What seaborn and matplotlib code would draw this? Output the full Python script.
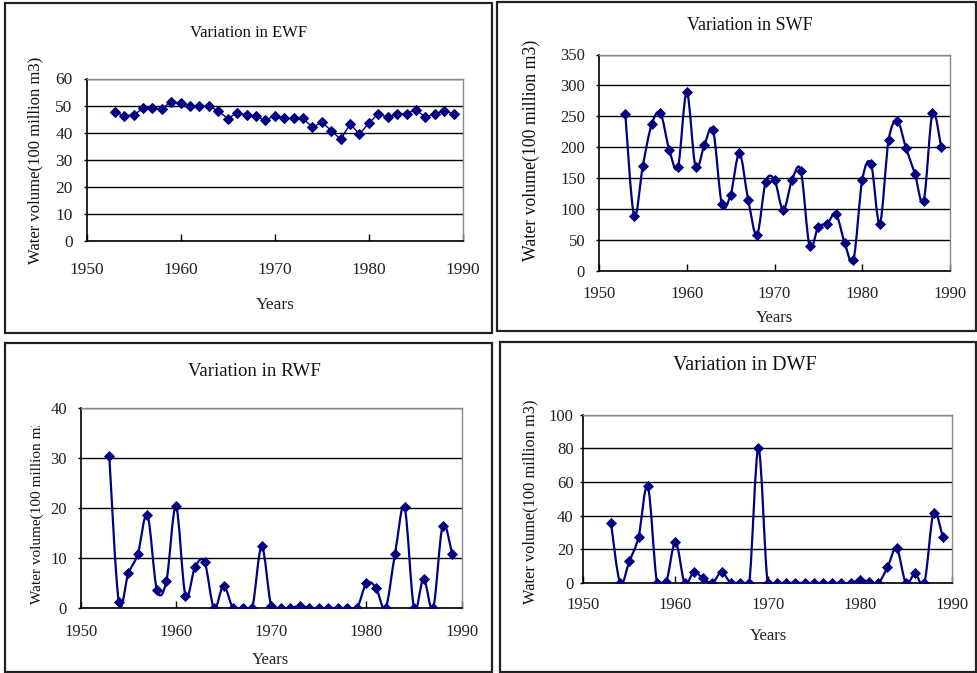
import numpy as np
import pandas as pd
import matplotlib
matplotlib.use("Agg")
import matplotlib.pyplot as plt
from matplotlib.path import Path
from matplotlib.patches import PathPatch, Rectangle
from matplotlib.transforms import Bbox
import seaborn as sns

# ---- data (water volume, 100 million m3) ----
years = list(range(1953, 1990))

ewf = [47.5, 46.3, 46.5, 49.0, 49.0, 48.7, 51.5, 50.8, 49.8, 49.8, 49.8, 48.0,
       45.2, 47.3, 46.6, 46.0, 44.5, 46.3, 45.3, 45.3, 45.3, 42.0, 43.8, 40.8,
       37.5, 43.2, 39.5, 43.5, 47.0, 45.7, 47.0, 47.0, 48.5, 45.7, 47.0, 48.0,
       47.0]

swf = [253, 89, 170, 237, 255, 196, 168, 289, 168, 203, 227, 108, 123, 190,
       115, 58, 144, 147, 98, 147, 162, 40, 71, 76, 92, 45, 18, 147, 173, 76,
       211, 242, 198, 157, 113, 255, 200]

rwf = [30.4, 1.3, 7.0, 10.9, 18.7, 3.7, 5.5, 20.4, 2.5, 8.2, 9.3, 0.0, 4.5,
       0.0, 0.0, 0.0, 12.4, 0.5, 0.0, 0.0, 0.5, 0.0, 0.0, 0.0, 0.0, 0.0, 0.0,
       5.0, 4.1, 0.0, 10.9, 20.2, 0.0, 5.9, 0.0, 16.5, 10.9]

dwf = [35.8, 0.0, 13.0, 27.5, 57.6, 0.0, 0.8, 24.5, 0.0, 6.5, 2.8, 0.0, 6.5,
       0.0, 0.0, 0.0, 80.0, 0.0, 0.0, 0.0, 0.0, 0.0, 0.0, 0.0, 0.0, 0.0, 0.0,
       1.8, 0.8, 0.0, 9.3, 20.6, 0.0, 5.7, 0.0, 41.6, 27.3]

x_ticks = [1950, 1960, 1970, 1980, 1990]
ylabel = "Water volume(100 million m3)"

W, H = 977, 673
NAVY = "#000080"

sns.set_style("white")
plt.rcParams["font.family"] = ["Liberation Serif", "DejaVu Serif"]
plt.rcParams["axes.unicode_minus"] = False

fig = plt.figure(figsize=(W / 100, H / 100), dpi=100)


def fx(px):
    return px / W


def fy(py):
    return 1 - py / H


def add_box(x0, y0, x1, y1):
    fig.patches.append(Rectangle((fx(x0), fy(y1)), fx(x1 - x0), (y1 - y0) / H,
                                 transform=fig.transFigure, fill=False,
                                 lw=1.6, ec="#222222", zorder=0))


def smooth_path(xs, ys):
    # cubic Bezier segments through every point (Catmull-Rom style tangents)
    pts = np.column_stack([xs, ys]).astype(float)
    n = len(pts)
    verts = [pts[0]]
    codes = [Path.MOVETO]
    for i in range(n - 1):
        p0 = pts[i - 1] if i > 0 else pts[i]
        p1 = pts[i]
        p2 = pts[i + 1]
        p3 = pts[i + 2] if i + 2 < n else pts[i + 1]
        c1 = p1 + (p2 - p0) / 6.0
        c2 = p2 - (p3 - p1) / 6.0
        verts += [c1, c2, p2]
        codes += [Path.CURVE4] * 3
    return Path(verts, codes)


def panel(rect_px, values, ymax, ystep, title, title_xy, title_fs,
          ylab_xy, ylab_fs, years_xy, years_fs, xpad, ypad, smooth=True,
          tick_fs=12, lw=1.6, ylab_va="center", ylab_clip=None):
    left, right, top, bottom = rect_px
    ax = fig.add_axes([fx(left), fy(bottom), fx(right - left), (bottom - top) / H])
    df = pd.DataFrame({"year": years, "value": values})
    if smooth:
        ax.add_patch(PathPatch(smooth_path(df["year"], df["value"]),
                               fill=False, ec=NAVY, lw=lw, zorder=3))
        sns.scatterplot(data=df, x="year", y="value", marker="D", s=32,
                        color=NAVY, edgecolor=NAVY, linewidth=0, ax=ax, zorder=4)
    else:
        sns.lineplot(data=df, x="year", y="value", marker="D", markersize=5.5,
                     color=NAVY, markeredgecolor=NAVY, lw=lw, ax=ax, zorder=4)
    ax.set_xlim(1950, 1990)
    ax.set_ylim(0, ymax)
    ax.set_xticks(x_ticks)
    ax.set_xticklabels([str(t) for t in x_ticks])
    ax.set_yticks(np.arange(0, ymax + ystep / 2, ystep))
    ax.yaxis.grid(True, color="black", lw=1.0)
    ax.xaxis.grid(False)
    ax.set_axisbelow(True)
    ax.tick_params(axis="x", direction="in", length=5, width=1, pad=xpad,
                   labelsize=tick_fs, colors="black", labelcolor="#222222",
                   bottom=True)
    ax.tick_params(axis="y", direction="out", length=2, width=1, pad=ypad,
                   labelsize=tick_fs, colors="black", labelcolor="#222222",
                   left=True)
    for side in ("left", "bottom"):
        ax.spines[side].set_color("black")
        ax.spines[side].set_linewidth(1.2)
    for side in ("top", "right"):
        ax.spines[side].set_color("#888888")
        ax.spines[side].set_linewidth(1.0)
        ax.spines[side].set_visible(True)
    ax.set_xlabel("")
    ax.set_ylabel("")
    fig.text(fx(title_xy[0]), fy(title_xy[1]), title, ha="center", va="center",
             fontsize=title_fs, color="#111111")
    yl = fig.text(fx(ylab_xy[0]), fy(ylab_xy[1]), ylabel, ha="center",
                  va=ylab_va, rotation=90, fontsize=ylab_fs, color="#111111")
    if ylab_clip is not None:
        x0, y0, x1, y1 = ylab_clip
        yl.set_clip_box(Bbox([[x0, H - y1], [x1, H - y0]]))
        yl.set_clip_on(True)
    fig.text(fx(years_xy[0]), fy(years_xy[1]), "Years", ha="center",
             va="center", fontsize=years_fs, color="#222222")
    return ax


# panel frames
add_box(5, 3, 492, 333)
add_box(497, 2, 976, 331)
add_box(5, 343, 492, 672)
add_box(500, 342, 976, 672)

panel((86.5, 463, 78.5, 241), ewf, 60, 10, "Variation in EWF", (249, 33), 12,
      (35, 160), 12, (275, 305), 12.5, xpad=15, ypad=8, smooth=False,
      tick_fs=12.5, lw=1.0)
panel((599, 950, 54.5, 270.7), swf, 350, 50, "Variation in SWF", (750, 25), 13,
      (531, 150), 12.8, (774, 318), 12, xpad=11, ypad=8)
panel((80.7, 461.7, 408.3, 608.3), rwf, 40, 10, "Variation in RWF", (254, 372),
      13.5, (37, 604), 11, (270, 660), 12, xpad=11, ypad=8,
      ylab_va="bottom", ylab_clip=(0, 426, 492, 673))
panel((583.3, 952, 414.7, 583), dwf, 100, 20, "Variation in DWF", (745, 366),
      14.5, (530, 502), 11.8, (768, 636), 12, xpad=10, ypad=5)

fig.savefig("out.png", dpi=100)
